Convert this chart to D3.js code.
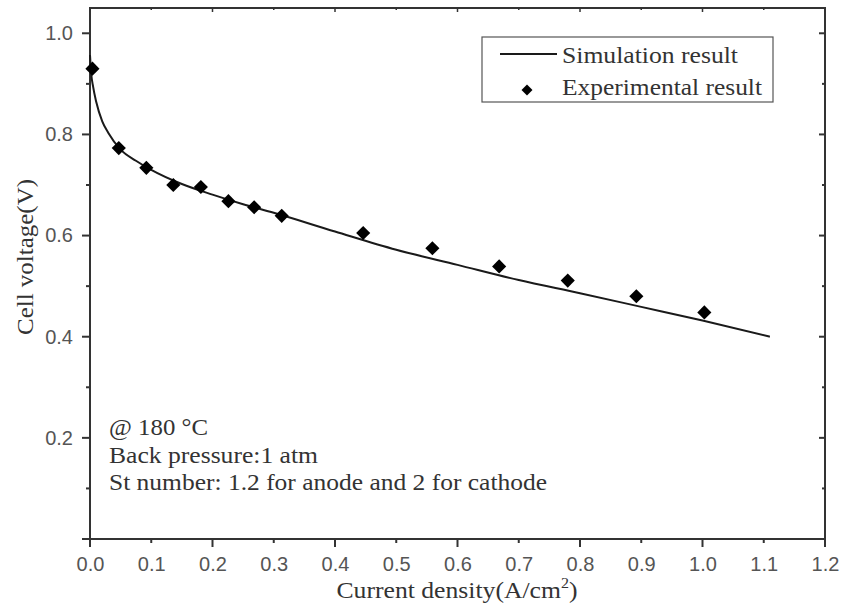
<!DOCTYPE html>
<html>
<head>
<meta charset="utf-8">
<script src="https://cdn.jsdelivr.net/npm/d3@7/dist/d3.min.js"></script>
<style>
  html, body { margin: 0; padding: 0; background: #fff; }
  svg { display: block; }
</style>
</head>
<body>
<svg id="chart" width="842" height="608"></svg>
<script>
// ---- data ----
const simX = [0, 0.002, 0.005, 0.01, 0.02, 0.03, 0.05, 0.075, 0.1, 0.15, 0.2, 0.25, 0.3, 0.4, 0.5, 0.6, 0.7, 0.8, 0.9, 1.0, 1.11];
const simY = [0.957, 0.92, 0.895, 0.865, 0.826, 0.803, 0.770, 0.748, 0.730, 0.702, 0.681, 0.662, 0.645, 0.608, 0.572, 0.542, 0.512, 0.486, 0.459, 0.432, 0.400];
const expX = [0.004, 0.047, 0.092, 0.136, 0.181, 0.226, 0.268, 0.313, 0.446, 0.559, 0.668, 0.780, 0.892, 1.003];
const expY = [0.930, 0.773, 0.734, 0.700, 0.696, 0.668, 0.656, 0.639, 0.605, 0.575, 0.539, 0.511, 0.480, 0.448];
const xTickLabels = [0.0, 0.1, 0.2, 0.3, 0.4, 0.5, 0.6, 0.7, 0.8, 0.9, 1.0, 1.1, 1.2];
const yTickLabels = [0.2, 0.4, 0.6, 0.8, 1.0];
const yMinorTicks = [0.1, 0.3, 0.5, 0.7, 0.9];
const legendLabels = ["Simulation result", "Experimental result"];
const notes = ["@ 180 \u00B0C", "Back pressure:1 atm", "St number: 1.2 for anode and 2 for cathode"];

// ---- layout ----
const svg = d3.select("#chart");
const x = d3.scaleLinear().domain([0, 1.2]).range([90, 825]);
const y = d3.scaleLinear().domain([0, 1.05]).range([539, 8]);
const axisColor = "#333";
const serif = "'Liberation Serif', 'Times New Roman', serif";
const sans = "'Liberation Sans', Arial, sans-serif";
const legendWidths = [176, 200];
const noteWidths = [99, 209, 438];

// frame
svg.append("rect")
  .attr("x", x(0)).attr("y", y(1.05))
  .attr("width", x(1.2) - x(0)).attr("height", y(0) - y(1.05))
  .attr("fill", "none").attr("stroke", axisColor).attr("stroke-width", 2);

// bottom axis labels
const xAxis = d3.axisBottom(x).tickValues(xTickLabels).tickFormat(d3.format(".1f")).tickSize(0).tickPadding(18);
const gx = svg.append("g").attr("transform", `translate(0,${y(0)})`).call(xAxis);
gx.select(".domain").remove();
gx.selectAll("text").attr("font-family", sans).attr("font-size", 20).attr("fill", "#555");

// bottom ticks (outward), top ticks (inward)
xTickLabels.forEach((v) => {
  const major = Math.round(v * 10) % 2 === 0;
  svg.append("line").attr("x1", x(v)).attr("x2", x(v))
    .attr("y1", y(0)).attr("y2", y(0) + (major ? 8 : 4))
    .attr("stroke", axisColor).attr("stroke-width", 2);
  svg.append("line").attr("x1", x(v)).attr("x2", x(v))
    .attr("y1", y(1.05)).attr("y2", y(1.05) + (major ? 4 : 2))
    .attr("stroke", axisColor).attr("stroke-width", 1.5);
});

// left axis labels
const yAxis = d3.axisLeft(y).tickValues(yTickLabels).tickFormat(d3.format(".1f")).tickSize(0).tickPadding(17);
const gy = svg.append("g").attr("transform", `translate(${x(0)},0)`).call(yAxis);
gy.select(".domain").remove();
gy.selectAll("text").attr("font-family", sans).attr("font-size", 20).attr("fill", "#555");

// left ticks (outward) and right ticks (inward)
yTickLabels.concat([0]).forEach(v => {
  svg.append("line").attr("x1", x(0) - 8).attr("x2", x(0)).attr("y1", y(v)).attr("y2", y(v))
    .attr("stroke", axisColor).attr("stroke-width", 2);
  svg.append("line").attr("x1", x(1.2) - 6).attr("x2", x(1.2)).attr("y1", y(v)).attr("y2", y(v))
    .attr("stroke", axisColor).attr("stroke-width", 2);
});
yMinorTicks.forEach(v => {
  svg.append("line").attr("x1", x(0) - 4).attr("x2", x(0)).attr("y1", y(v)).attr("y2", y(v))
    .attr("stroke", axisColor).attr("stroke-width", 2);
  svg.append("line").attr("x1", x(1.2) - 3).attr("x2", x(1.2)).attr("y1", y(v)).attr("y2", y(v))
    .attr("stroke", axisColor).attr("stroke-width", 2);
});

// axis titles
const xt = svg.append("text").attr("x", 457).attr("y", 598).attr("text-anchor", "middle")
  .attr("font-family", serif).attr("font-size", 24).attr("fill", "#333")
  .attr("textLength", 241).attr("lengthAdjust", "spacingAndGlyphs");
xt.append("tspan").text("Current density(A/cm");
xt.append("tspan").attr("font-size", 15).attr("dy", -10).text("2");
xt.append("tspan").attr("dy", 10).text(")");

svg.append("text").attr("transform", "translate(33,257) rotate(-90)").attr("text-anchor", "middle")
  .attr("font-family", serif).attr("font-size", 24).attr("fill", "#333")
  .attr("textLength", 156).attr("lengthAdjust", "spacingAndGlyphs")
  .text("Cell voltage(V)");

// simulation line
const simData = simX.map((d, i) => [d, simY[i]]);
svg.append("path").datum(simData)
  .attr("d", d3.line().x(d => x(d[0])).y(d => y(d[1])).curve(d3.curveMonotoneX))
  .attr("fill", "none").attr("stroke", "#1a1a1a").attr("stroke-width", 2);

// experimental points
const diamond = d3.symbol().type(d3.symbolSquare).size(100);
const expData = expX.map((d, i) => [d, expY[i]]);
svg.selectAll("path.pt").data(expData).enter().append("path").attr("class", "pt")
  .attr("d", diamond)
  .attr("transform", d => `translate(${x(d[0])},${y(d[1])}) rotate(45)`)
  .attr("fill", "#000");

// legend
svg.append("rect").attr("x", 482).attr("y", 37).attr("width", 291).attr("height", 65)
  .attr("fill", "#fff").attr("stroke", "#555").attr("stroke-width", 1.2);
svg.append("line").attr("x1", 500).attr("x2", 557).attr("y1", 54).attr("y2", 54)
  .attr("stroke", "#1a1a1a").attr("stroke-width", 2);
svg.append("path").attr("d", d3.symbol().type(d3.symbolSquare).size(60))
  .attr("transform", "translate(527,90) rotate(45)").attr("fill", "#000");
svg.selectAll("text.leg").data(legendLabels).enter().append("text").attr("class", "leg")
  .attr("x", 562).attr("y", (d, i) => 63 + i * 32)
  .attr("font-family", serif).attr("font-size", 24).attr("fill", "#333")
  .attr("textLength", (d, i) => legendWidths[i]).attr("lengthAdjust", "spacingAndGlyphs")
  .text(d => d);

// notes
svg.selectAll("text.note").data(notes).enter().append("text").attr("class", "note")
  .attr("x", 109).attr("y", (d, i) => 435 + i * 27.5)
  .attr("font-family", serif).attr("font-size", 23).attr("fill", "#333")
  .attr("textLength", (d, i) => noteWidths[i]).attr("lengthAdjust", "spacingAndGlyphs")
  .text(d => d);
</script>
</body>
</html>
